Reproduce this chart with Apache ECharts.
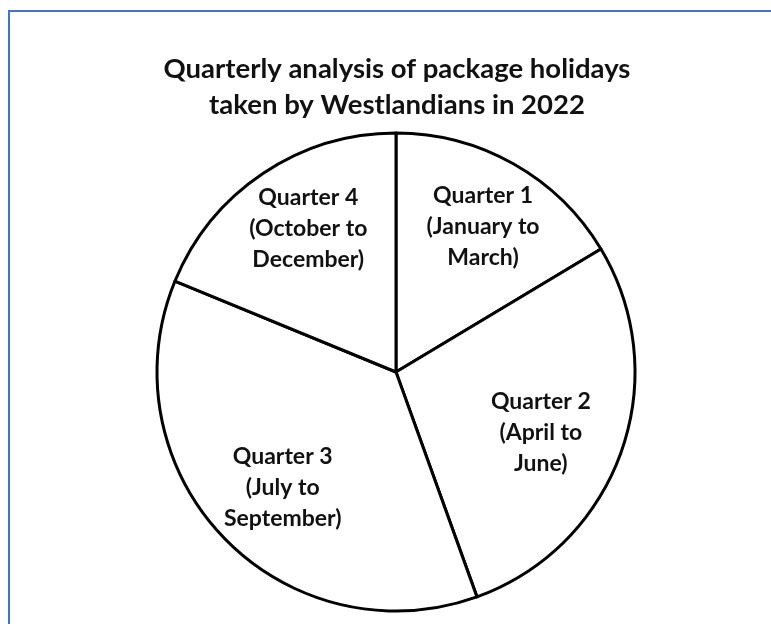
<!DOCTYPE html>
<html>
<head>
<meta charset="utf-8">
<script src="https://cdn.jsdelivr.net/npm/echarts@6/dist/echarts.min.js"></script>
<style>
html,body{margin:0;padding:0;background:#fff;}
#chart{width:771px;height:624px;}
</style>
</head>
<body>
<div id="chart"></div>
<script>
const titleLines = ['Quarterly analysis of package holidays', 'taken by Westlandians in 2022'];
const categories = ['Quarter 1\n(January to\nMarch)', 'Quarter 2\n(April to\nJune)', 'Quarter 3\n(July to\nSeptember)', 'Quarter 4\n(October to\nDecember)'];
const shares = [16.4, 28.1, 36.7, 18.8];

const chart = echarts.init(document.getElementById('chart'), null, {renderer: 'canvas'});
const pieData = categories.map((c, i) => ({name: c, value: shares[i]}));
const FONT = 'Lato, "Open Sans", sans-serif';
// small label nudges (px) to match the reference placement
const labelNudge = [[5, -1], [-12, 5], [7, 0], [5, -5]];

chart.setOption({
  backgroundColor: '#ffffff',
  animation: false,
  title: {
    text: titleLines.join('\n'),
    left: 397,
    textAlign: 'center',
    top: 51,
    padding: 0,
    textStyle: {
      fontFamily: FONT,
      fontWeight: 'bold',
      fontSize: 27.5,
      lineHeight: 36,
      color: '#111111'
    }
  },
  graphic: [{
    type: 'rect',
    silent: true,
    shape: {x: 9, y: 11, width: 800, height: 700},
    style: {fill: 'none', stroke: '#4472C4', lineWidth: 2}
  }],
  series: [
    {
      type: 'pie',
      center: [396, 372],
      radius: [0, 239],
      startAngle: 90,
      clockwise: true,
      silent: true,
      label: {show: false},
      labelLine: {show: false},
      itemStyle: {color: '#ffffff', borderColor: '#000000', borderWidth: 3},
      emphasis: {disabled: true},
      data: pieData
    },
    {
      type: 'pie',
      center: [396, 372],
      radius: [88, 239],
      startAngle: 90,
      clockwise: true,
      silent: true,
      z: 5,
      itemStyle: {color: 'rgba(0,0,0,0)', borderWidth: 0},
      label: {
        show: true,
        position: 'inside',
        formatter: '{b}',
        fontFamily: FONT,
        fontWeight: 'bold',
        fontSize: 23,
        lineHeight: 31,
        color: '#111111',
        align: 'center'
      },
      labelLayout: function (p) {
        const n = labelNudge[p.dataIndex] || [0, 0];
        return {dx: n[0], dy: n[1]};
      },
      labelLine: {show: false},
      emphasis: {disabled: true},
      data: pieData
    }
  ]
});
</script>
</body>
</html>
